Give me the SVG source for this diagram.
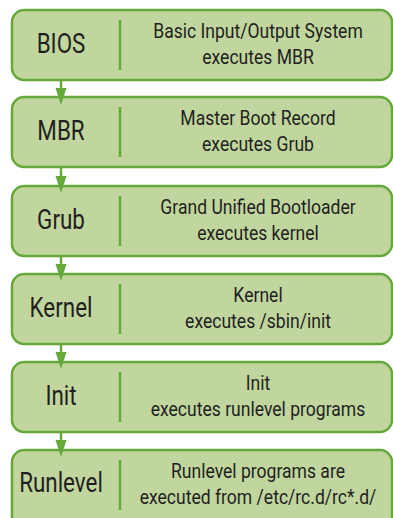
<svg xmlns="http://www.w3.org/2000/svg" width="393" height="518" viewBox="0 0 393 518">
<style>
.box{fill:#c0d69e;stroke:#67a83a;stroke-width:2.5}
.div{stroke:#67a83a;stroke-width:2.5}
.lbl{font-family:Roboto,"Liberation Sans",sans-serif;font-size:27px;fill:#231f20;text-anchor:middle}
.desc{font-family:Roboto,"Liberation Sans",sans-serif;font-size:19.5px;fill:#231f20;text-anchor:middle}
.conn line{stroke:#67a83a;stroke-width:2.5}
.conn polygon{fill:#67a83a}
</style>
<rect width="393" height="518" fill="#ffffff"/>
<g id="bios">
<rect class="box" x="12" y="10" width="380" height="70" rx="12"/>
<line class="div" x1="120" y1="20" x2="120" y2="70"/>
<text class="lbl" transform="translate(61 52.7) scale(0.83 1)">BIOS</text>
<text class="desc" transform="translate(258 38) scale(0.9 1)">Basic Input/Output System</text>
<text class="desc" transform="translate(258 64) scale(0.9 1)">executes MBR</text>
</g>
<g id="mbr">
<rect class="box" x="12" y="97" width="380" height="70" rx="12"/>
<line class="div" x1="120" y1="107" x2="120" y2="157"/>
<text class="lbl" transform="translate(61 139.5) scale(0.83 1)">MBR</text>
<text class="desc" transform="translate(258 125) scale(0.9 1)">Master Boot Record</text>
<text class="desc" transform="translate(258 151) scale(0.9 1)">executes Grub</text>
</g>
<g id="grub">
<rect class="box" x="12" y="186" width="380" height="70" rx="12"/>
<line class="div" x1="120" y1="196" x2="120" y2="246"/>
<text class="lbl" transform="translate(61 228.5) scale(0.83 1)">Grub</text>
<text class="desc" transform="translate(258 213.5) scale(0.9 1)">Grand Unified Bootloader</text>
<text class="desc" transform="translate(258 240) scale(0.9 1)">executes kernel</text>
</g>
<g id="kernel">
<rect class="box" x="12" y="274" width="380" height="70" rx="12"/>
<line class="div" x1="120" y1="284" x2="120" y2="334"/>
<text class="lbl" transform="translate(61 316.7) scale(0.83 1)">Kernel</text>
<text class="desc" transform="translate(258 302) scale(0.9 1)">Kernel</text>
<text class="desc" transform="translate(258 328) scale(0.9 1)">executes /sbin/init</text>
</g>
<g id="init">
<rect class="box" x="12" y="362" width="380" height="70" rx="12"/>
<line class="div" x1="120" y1="372" x2="120" y2="422"/>
<text class="lbl" transform="translate(61 404.7) scale(0.83 1)">Init</text>
<text class="desc" transform="translate(258 390) scale(0.9 1)">Init</text>
<text class="desc" transform="translate(258 416) scale(0.9 1)">executes runlevel programs</text>
</g>
<g id="runlevel">
<rect class="box" x="12" y="450" width="380" height="80" rx="12"/>
<line class="div" x1="120" y1="460" x2="120" y2="510"/>
<text class="lbl" transform="translate(61 491.5) scale(0.83 1)">Runlevel</text>
<text class="desc" transform="translate(258 478) scale(0.9 1)">Runlevel programs are</text>
<text class="desc" transform="translate(258 504) scale(0.9 1)">executed from /etc/rc.d/rc*.d/</text>
</g>
<g id="connectors" class="conn">
<line x1="61" y1="80" x2="61" y2="89"/><polygon points="55.5,88 66.5,88 61,105"/>
<line x1="61" y1="167" x2="61" y2="177"/><polygon points="55.5,176 66.5,176 61,193"/>
<line x1="61" y1="256" x2="61" y2="265"/><polygon points="55.5,264 66.5,264 61,281"/>
<line x1="61" y1="344" x2="61" y2="353"/><polygon points="55.5,352 66.5,352 61,369"/>
<line x1="61" y1="432" x2="61" y2="441"/><polygon points="55.5,440 66.5,440 61,457"/>
</g>
</svg>
